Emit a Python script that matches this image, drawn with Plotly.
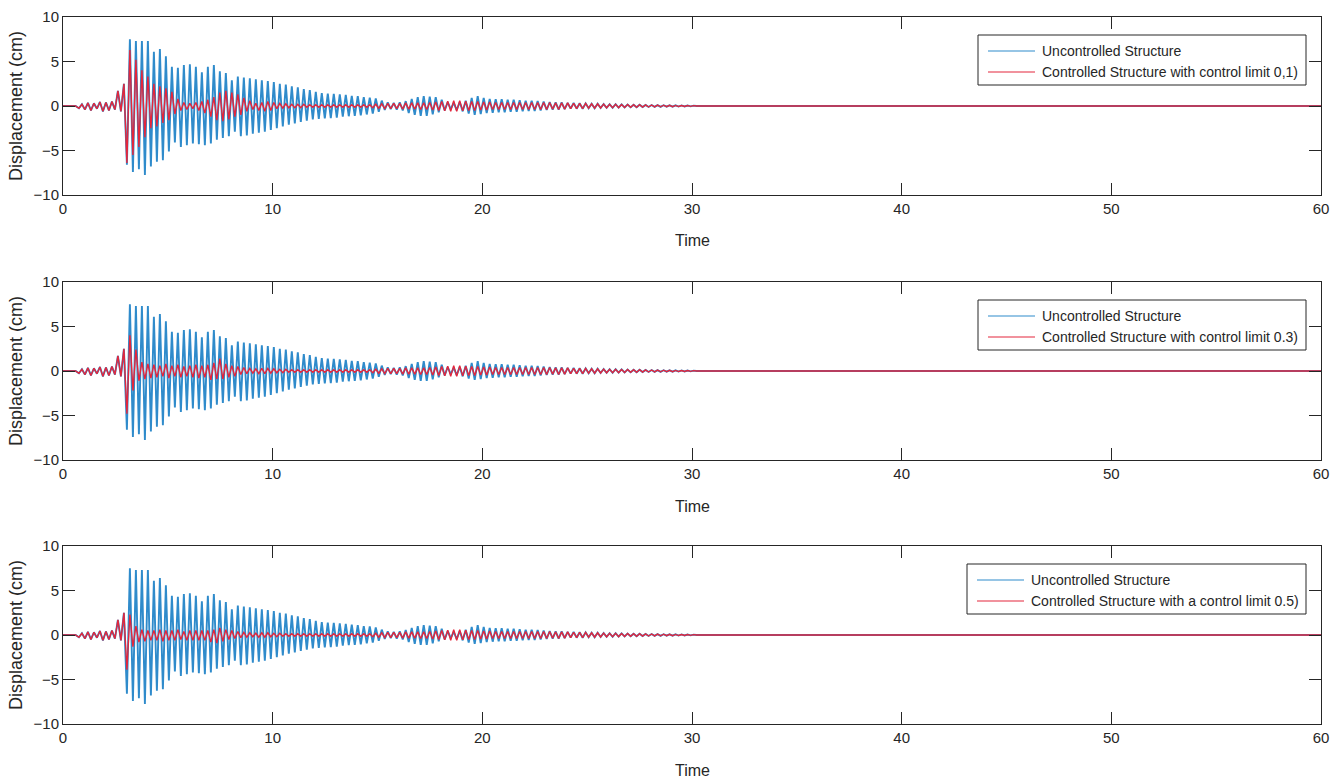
import numpy as np
import plotly.graph_objects as go

# ---------------- data ----------------
x_ticks = [0, 10, 20, 30, 40, 50, 60]
y_ticks = [-10, -5, 0, 5, 10]

# oscillation timing (s): first cycle start and period of the response
cycle_start = 0.76
cycle_period = 0.286

# pre-event ground-motion wiggles (cycles 0-7), common to all responses
pre_peaks = [0.2, 0.35, 0.3, 0.45, 0.4, 0.5, 1.7, 2.5]
pre_troughs = [-0.25, -0.4, -0.5, -0.3, -0.6, -0.5, -0.4, -0.6]

# uncontrolled structure, cycles 8-39
blue_peaks_head = [7.5, 7.3, 7.3, 7.3, 6.1, 6.4, 5.6, 4.4, 4.3, 4.6,
                   4.7, 4.4, 3.8, 4.4, 4.6, 3.9, 3.7, 2.9, 3.3, 3.2,
                   3.1, 3.0, 2.9, 2.8, 2.7, 2.5, 2.4, 2.2, 2.1, 1.9,
                   1.8, 1.6]
blue_troughs_head = [-6.6, -7.4, -7.1, -7.75, -6.8, -6.25, -6.1, -5.1, -4.1, -4.6,
                     -4.4, -4.2, -4.3, -4.4, -4.2, -3.8, -3.6, -3.4, -2.9, -3.4,
                     -3.3, -3.1, -3.0, -2.9, -2.7, -2.5, -2.3, -2.1, -1.95, -1.8,
                     -1.65, -1.5]
# uncontrolled structure, cycles 40-102
blue_peaks_tail = [1.45, 1.4, 1.35, 1.3, 1.25, 1.15, 1.1, 1.0, 0.95, 0.85,
                   0.6, 0.4, 0.35, 0.4, 0.55, 0.8, 1.0, 1.1, 1.05, 1.0,
                   0.7, 0.45, 0.35, 0.45, 0.6, 0.9, 1.1, 0.9, 0.8, 0.75,
                   0.75, 0.7, 0.7, 0.65, 0.6, 0.6, 0.55, 0.5, 0.45, 0.4,
                   0.4, 0.35, 0.35, 0.3, 0.3, 0.25, 0.25, 0.22, 0.2, 0.2,
                   0.18, 0.16, 0.15, 0.14, 0.12, 0.11, 0.1, 0.09, 0.08, 0.07,
                   0.06, 0.05, 0.04]
blue_troughs_tail = [-1.45, -1.4, -1.35, -1.3, -1.2, -1.15, -1.1, -1.05, -0.95, -0.85,
                     -0.65, -0.45, -0.35, -0.4, -0.5, -0.8, -1.0, -1.1, -1.1, -0.95,
                     -0.7, -0.5, -0.35, -0.45, -0.6, -0.85, -1.0, -0.9, -0.8, -0.75,
                     -0.7, -0.7, -0.65, -0.65, -0.6, -0.55, -0.55, -0.5, -0.45, -0.4,
                     -0.4, -0.35, -0.3, -0.3, -0.3, -0.25, -0.25, -0.22, -0.2, -0.2,
                     -0.18, -0.16, -0.15, -0.14, -0.12, -0.11, -0.1, -0.09, -0.08, -0.07,
                     -0.06, -0.05, -0.04]

# controlled structures, cycles 8-39
red01_peaks_head = [6.3, 5.2, 4.0, 3.3, 2.5, 2.2, 2.0, 1.6, 0.8, 0.4,
                    0.3, 0.4, 0.5, 0.7, 1.0, 1.5, 1.7, 1.5, 1.3, 0.9,
                    0.6, 0.3, 0.4, 0.5, 0.4, 0.3, 0.25, 0.2, 0.2, 0.2,
                    0.15, 0.15]
red01_troughs_head = [-6.4, -5.5, -4.6, -3.5, -2.5, -2.3, -1.9, -1.6, -0.9, -0.5,
                      -0.4, -0.3, -0.5, -0.8, -1.2, -1.6, -1.7, -1.5, -1.2, -1.0,
                      -0.6, -0.4, -0.5, -0.6, -0.5, -0.3, -0.25, -0.2, -0.2, -0.2,
                      -0.15, -0.15]
red03_peaks_head = [4.0, 2.4, 1.0, 0.8, 0.7, 0.6, 0.8, 0.6, 0.7, 0.5,
                    0.6, 0.7, 0.6, 0.7, 0.9, 1.4, 0.8, 0.6, 0.5, 0.4,
                    0.3, 0.25, 0.3, 0.3, 0.25, 0.2, 0.2, 0.15, 0.15, 0.15,
                    0.15, 0.15]
red03_troughs_head = [-4.8, -2.2, -1.1, -0.9, -0.8, -0.7, -0.6, -0.8, -0.6, -0.7,
                      -0.6, -0.7, -0.8, -0.7, -1.0, -0.9, -0.9, -0.7, -0.6, -0.4,
                      -0.3, -0.25, -0.3, -0.3, -0.25, -0.2, -0.2, -0.15, -0.15, -0.15,
                      -0.15, -0.15]
red05_peaks_head = [2.3, 1.0, 0.6, 0.5, 0.5, 0.6, 0.5, 0.5, 0.6, 0.4,
                    0.5, 0.5, 0.5, 0.5, 0.6, 0.8, 0.6, 0.5, 0.4, 0.3,
                    0.25, 0.2, 0.25, 0.25, 0.2, 0.2, 0.15, 0.15, 0.15, 0.15,
                    0.15, 0.15]
red05_troughs_head = [-3.9, -1.3, -0.8, -0.7, -0.6, -0.6, -0.7, -0.6, -0.6, -0.5,
                      -0.6, -0.6, -0.6, -0.6, -0.8, -0.9, -0.7, -0.5, -0.4, -0.3,
                      -0.25, -0.2, -0.25, -0.25, -0.2, -0.2, -0.15, -0.15, -0.15, -0.15,
                      -0.15, -0.15]
# controlled structures, cycles 40-102
red_peaks_tail = [0.15, 0.15, 0.15, 0.15, 0.15, 0.15, 0.15, 0.15, 0.15, 0.2,
                  0.25, 0.3, 0.3, 0.3, 0.35, 0.35, 0.35, 0.35, 0.4, 0.45,
                  0.5, 0.55, 0.6, 0.6, 0.55, 0.5, 0.5, 0.45, 0.45, 0.4,
                  0.4, 0.4, 0.4, 0.4, 0.4, 0.4, 0.4, 0.4, 0.4, 0.35,
                  0.35, 0.35, 0.3, 0.3, 0.3, 0.25, 0.25, 0.22, 0.2, 0.2,
                  0.18, 0.16, 0.15, 0.14, 0.12, 0.11, 0.1, 0.09, 0.08, 0.07,
                  0.06, 0.05, 0.04]
red_troughs_tail = [-0.15, -0.15, -0.15, -0.15, -0.15, -0.15, -0.15, -0.15, -0.15, -0.2,
                    -0.25, -0.3, -0.3, -0.3, -0.35, -0.35, -0.35, -0.4, -0.4, -0.45,
                    -0.5, -0.55, -0.6, -0.6, -0.55, -0.5, -0.5, -0.45, -0.45, -0.4,
                    -0.4, -0.4, -0.4, -0.4, -0.4, -0.4, -0.4, -0.4, -0.4, -0.35,
                    -0.4, -0.35, -0.3, -0.3, -0.3, -0.25, -0.25, -0.22, -0.2, -0.2,
                    -0.18, -0.16, -0.15, -0.14, -0.12, -0.11, -0.1, -0.09, -0.08, -0.07,
                    -0.06, -0.05, -0.04]

series_names = ["Uncontrolled Structure",
                "Controlled Structure with control limit 0,1)",
                "Controlled Structure with control limit 0.3)",
                "Controlled Structure with a control limit 0.5)"]
x_title = "Time"
y_title = "Displacement (cm)"

# ---------------- build the traces ----------------
def build(peaks, troughs):
    xs, ys = [0.0, 0.6], [0.0, 0.0]
    for k, (p, tr) in enumerate(zip(peaks, troughs)):
        t = cycle_start + k * cycle_period
        xs += [t, t + cycle_period / 2]
        ys += [tr, p]
    t_end = cycle_start + len(peaks) * cycle_period
    xs += [t_end, 60.0]
    ys += [0.0, 0.0]
    return xs, ys

blue_x, blue_y = build(pre_peaks + blue_peaks_head + blue_peaks_tail,
                       pre_troughs + blue_troughs_head + blue_troughs_tail)
reds = [
    build(pre_peaks + red01_peaks_head + red_peaks_tail, pre_troughs + red01_troughs_head + red_troughs_tail),
    build(pre_peaks + red03_peaks_head + red_peaks_tail, pre_troughs + red03_troughs_head + red_troughs_tail),
    build(pre_peaks + red05_peaks_head + red_peaks_tail, pre_troughs + red05_troughs_head + red_troughs_tail),
]

FONT = "Liberation Sans, Arial, Helvetica, sans-serif"
INK = "#262626"
BLUE = "#2f8bcb"
RED = "#e3263c"

W, H = 1343, 780
L, R, T, B = 63, 1321, 17, 724
panel_tops = [17, 282, 546]
panel_h = 178

def px_x(px):
    return (px - L) / (R - L)

def px_y(py):
    return (B - py) / (B - T)

fig = go.Figure()
for i in range(3):
    xa = "x" if i == 0 else f"x{i+1}"
    ya = "y" if i == 0 else f"y{i+1}"
    fig.add_trace(go.Scatter(x=blue_x, y=blue_y, mode="lines", name=series_names[0],
                             line=dict(color=BLUE, width=1.9), xaxis=xa, yaxis=ya,
                             showlegend=False))
    rx, ry = reds[i]
    fig.add_trace(go.Scatter(x=rx, y=ry, mode="lines", name=series_names[i + 1],
                             line=dict(color=RED, width=1.4), xaxis=xa, yaxis=ya,
                             showlegend=False))

layout = dict(width=W, height=H, margin=dict(l=L, r=W - R, t=T, b=H - B, autoexpand=False),
              paper_bgcolor="white", plot_bgcolor="white",
              font=dict(family=FONT, color=INK), showlegend=False)

shapes, annotations = [], []
for i in range(3):
    top = panel_tops[i]
    bot = top + panel_h
    dom = [px_y(bot), px_y(top)]
    sx = "" if i == 0 else str(i + 1)
    layout["xaxis" + sx] = dict(
        domain=[0, 1], anchor="y" + sx, range=[0, 60], tickvals=x_ticks,
        ticks="inside", ticklen=12, tickwidth=1, tickcolor=INK,
        showline=True, linecolor=INK, linewidth=1, mirror="ticks",
        showgrid=False, zeroline=False, automargin=False,
        tickfont=dict(family=FONT, size=15, color=INK),
    )
    layout["yaxis" + sx] = dict(
        domain=dom, anchor="x" + sx, range=[-10, 10], tickvals=y_ticks,
        ticks="inside", ticklen=12, tickwidth=1, tickcolor=INK,
        showline=True, linecolor=INK, linewidth=1, mirror="ticks",
        showgrid=False, zeroline=False, automargin=False,
        tickfont=dict(family=FONT, size=15, color=INK),
        title=dict(text=y_title, font=dict(family=FONT, size=18, color=INK), standoff=6),
    )
    # x-axis title
    annotations.append(dict(xref="paper", yref="paper", x=0.5, y=px_y(bot + 46),
                            text=x_title, showarrow=False, xanchor="center", yanchor="middle",
                            font=dict(family=FONT, size=16, color=INK)))

    # legend box drawn as a shape + line samples + text
    box_left = 967 if i == 2 else 978
    box_right = 1306
    box_top = top + 18
    box_bot = box_top + 50
    shapes.append(dict(type="rect", xref="paper", yref="paper",
                       x0=px_x(box_left), x1=px_x(box_right), y0=px_y(box_bot), y1=px_y(box_top),
                       line=dict(color=INK, width=1), fillcolor="white", layer="above"))
    for j, (name, col) in enumerate([(series_names[0], BLUE), (series_names[i + 1], RED)]):
        ry_px = box_top + 16 + j * 21
        shapes.append(dict(type="line", xref="paper", yref="paper",
                           x0=px_x(box_left + 10), x1=px_x(box_left + 57),
                           y0=px_y(ry_px), y1=px_y(ry_px),
                           line=dict(color=col, width=1.2), layer="above"))
        annotations.append(dict(xref="paper", yref="paper", x=px_x(box_left + 62), y=px_y(ry_px),
                                text=name, showarrow=False, xanchor="left", yanchor="middle",
                                font=dict(family=FONT, size=14, color=INK)))

layout["shapes"] = shapes
layout["annotations"] = annotations
fig.update_layout(**layout)
fig.write_html("out.html")
